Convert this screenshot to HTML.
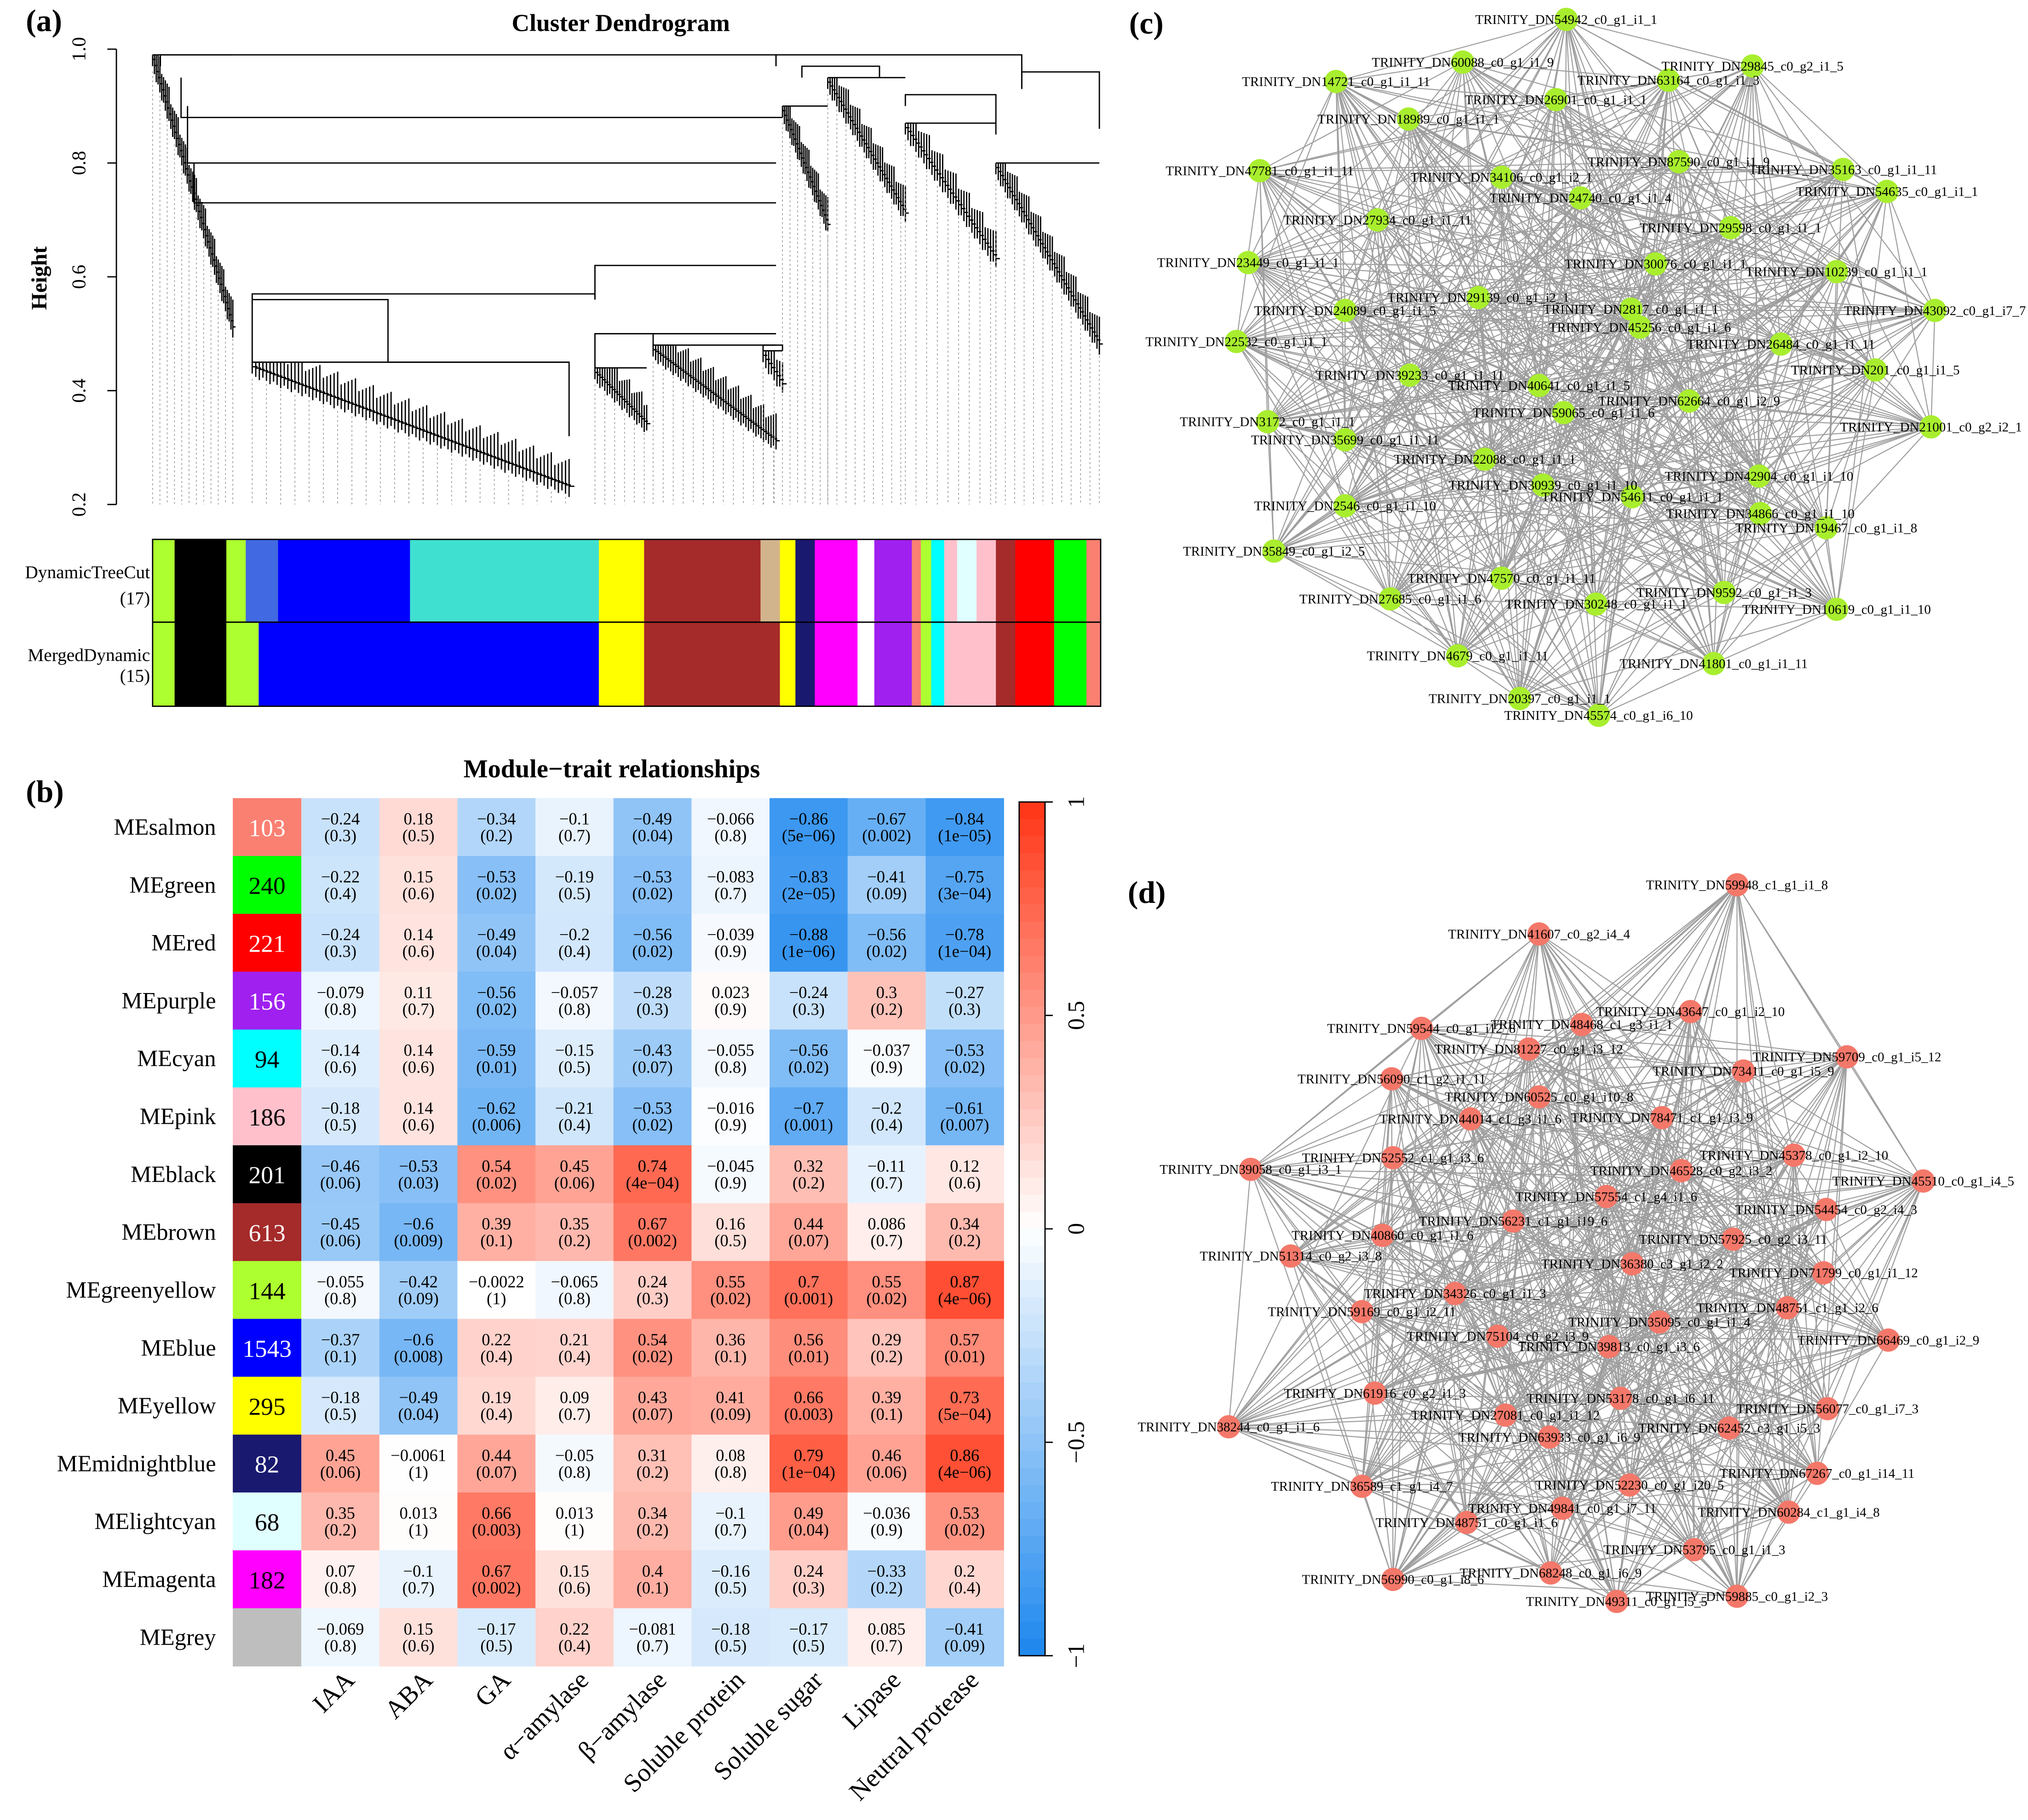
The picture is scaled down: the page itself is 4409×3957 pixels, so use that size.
<!DOCTYPE html>
<html><head><meta charset="utf-8"><style>
html,body{margin:0;padding:0;background:#fff}
svg{display:block}
text{font-family:"Liberation Serif",serif}
</style></head><body>
<svg id="fig" width="4409" height="3957" viewBox="0 0 1568 1407" preserveAspectRatio="none" xmlns="http://www.w3.org/2000/svg">
<rect width="1568" height="1407" fill="#fff"/>
<g id="pa"></g>
<g id="pb"></g>
<g id="pc"></g>
<g id="pd"></g>
</svg>
<script>
const NS="http://www.w3.org/2000/svg";
function mk(parent,tag,attrs,txt){const e=document.createElementNS(NS,tag);for(const k in attrs)e.setAttribute(k,attrs[k]);if(txt!==undefined)e.textContent=txt;parent.appendChild(e);return e;}

/* ---------- Panel A data ---------- */
const yTicks=[0.2,0.4,0.6,0.8,1.0];
const combGroups=[[118,180,0.97,0.50,45],[195,440,0.43,0.22,90],[460,500,0.42,0.33,22],[505,600,0.46,0.30,50],[590,605,0.45,0.40,8],[605,640,0.88,0.68,25],[640,700,0.93,0.70,35],[700,770,0.85,0.62,35],[770,850,0.78,0.47,45]];
const brackets=[[124,0.97,600,0.97,0.99],[600,0.97,790,0.93,0.99],[790,0.93,850,0.86,0.96],[140,0.95,605,0.88,0.88],[145,0.90,600,0.80,0.80],[150,0.80,600,0.73,0.73],[195,0.56,460,0.56,0.57],[195,0.45,300,0.45,0.56],[300,0.45,440,0.32,0.45],[460,0.56,600,0.62,0.62],[460,0.44,505,0.47,0.50],[590,0.47,605,0.47,0.48],[505,0.50,600,0.50,0.50],[620,0.95,680,0.95,0.97],[700,0.90,770,0.85,0.92]];
const treeCut=[["#ADFF2F",118,135],["#000",135,175],["#ADFF2F",175,190],["#4169E1",190,215],["#0000FF",215,317],["#40E0D0",317,463],["#FFFF00",463,498],["#A52A2A",498,506],["#A52A2A",506,588],["#D2B48C",588,603],["#FFFF00",603,615],["#191970",615,630],["#FF00FF",630,663],["#fff",663,676],["#A020F0",676,705],["#FA8072",705,712],["#ADFF2F",712,720],["#00FFFF",720,730],["#FFC0CB",730,740],["#E0FFFF",740,755],["#FFC0CB",755,770],["#A52A2A",770,785],["#FF0000",785,815],["#00FF00",815,840],["#FA8072",840,851]];
const merged=[["#ADFF2F",118,135],["#000",135,175],["#ADFF2F",175,200],["#0000FF",200,463],["#FFFF00",463,498],["#A52A2A",498,603],["#FFFF00",603,615],["#191970",615,630],["#FF00FF",630,663],["#fff",663,676],["#A020F0",676,705],["#FA8072",705,712],["#ADFF2F",712,720],["#00FFFF",720,730],["#FFC0CB",730,770],["#A52A2A",770,785],["#FF0000",785,815],["#00FF00",815,840],["#FA8072",840,851]];

const pa=document.getElementById('pa');
const yH=h=>38+(1-h)/0.8*352;
let t=mk(pa,'text',{x:20,y:24,'font-size':24,'font-weight':'bold'},'(a)');

t=mk(pa,'text',{x:480,y:24,'font-size':19,'font-weight':'bold','text-anchor':'middle'},'Cluster Dendrogram');

t=mk(pa,'text',{x:36,y:215,'font-size':17,'font-weight':'bold','text-anchor':'middle',transform:'rotate(-90 36 215)'},'Height');

let ax=mk(pa,'line',{x1:90,y1:yH(1),x2:90,y2:yH(0.2),stroke:'#000','stroke-width':1});

yTicks.forEach(v=>{const y=yH(v);mk(pa,'line',{x1:83,y1:y,x2:90,y2:y,stroke:'#000'});
 const tt=mk(pa,'text',{x:66,y:y,'font-size':15,'text-anchor':'middle',transform:`rotate(-90 66 ${y})`},v.toFixed(1));
 });
const tree=mk(pa,'g',{});
combGroups.forEach(g=>{const [x0,x1,h0,h1,n]=g;
 for(let i=0;i<n;i+=2){const x=x0+(x1-x0)*i/(n-1);const h=h0+(h1-h0)*i/(n-1);
  if(i%4==0)mk(tree,'line',{x1:x,y1:yH(h)+4,x2:x,y2:390,stroke:'#999','stroke-width':0.6,'stroke-dasharray':'1.5,2'});}
 let d='';
 for(let i=0;i<n;i++){const x=x0+(x1-x0)*i/(n-1);const h=h0+(h1-h0)*i/(n-1);
  const top=Math.min(h+0.04+0.02*((i%5)/4),h0+0.02);
  d+=`M${x},${yH(top)}V${yH(h)+ (i%3)*1.5}M${x},${yH(h+0.012)}h${(x1-x0)/(n-1)*1.5}`;}
 mk(tree,'path',{d:d,stroke:'#000','stroke-width':1.0,fill:'none'});
 mk(tree,'path',{d:`M${x0},${yH(h0+0.02)}H${x1}`,stroke:'#000','stroke-width':1});
});
brackets.forEach(b=>{const [xl,hl,xr,hr,h]=b;
 mk(tree,'path',{d:`M${xl},${yH(hl)}V${yH(h)}H${xr}V${yH(hr)}`,stroke:'#000','stroke-width':1,fill:'none'});});
function bar(arr,y,hgt,name){const g=mk(pa,'g',{});
 arr.forEach(s=>mk(g,'rect',{x:s[1],y:y,width:s[2]-s[1]+0.3,height:hgt,fill:s[0]}));
 mk(g,'rect',{x:118,y:y,width:733,height:hgt,fill:'none',stroke:'#000','stroke-width':1});}
bar(treeCut,417,64,'dynamic-tree-cut-bar');bar(merged,481,65,'merged-dynamic-bar');
[[ 'DynamicTreeCut',447],['(17)',467],['MergedDynamic',511],['(15)',527]].forEach(l=>{const tt=mk(pa,'text',{x:116,y:l[1],'font-size':14,'text-anchor':'end'},l[0]);});

/* ---------- Panel B data ---------- */
const modules=["MEsalmon","MEgreen","MEred","MEpurple","MEcyan","MEpink","MEblack","MEbrown","MEgreenyellow","MEblue","MEyellow","MEmidnightblue","MElightcyan","MEmagenta","MEgrey"];
const moduleColors=["#FA8072","#00FF00","#FF0000","#A020F0","#00FFFF","#FFC0CB","#000000","#A52A2A","#ADFF2F","#0000FF","#FFFF00","#191970","#E0FFFF","#FF00FF","#BEBEBE"];
const moduleSizes=["103","240","221","156","94","186","201","613","144","1543","295","82","68","182",""];
const traits=["IAA","ABA","GA","α−amylase","β−amylase","Soluble protein","Soluble sugar","Lipase","Neutral protease"];
const corr=[
[-0.24,0.18,-0.34,-0.1,-0.49,-0.066,-0.86,-0.67,-0.84],
[-0.22,0.15,-0.53,-0.19,-0.53,-0.083,-0.83,-0.41,-0.75],
[-0.24,0.14,-0.49,-0.2,-0.56,-0.039,-0.88,-0.56,-0.78],
[-0.079,0.11,-0.56,-0.057,-0.28,0.023,-0.24,0.3,-0.27],
[-0.14,0.14,-0.59,-0.15,-0.43,-0.055,-0.56,-0.037,-0.53],
[-0.18,0.14,-0.62,-0.21,-0.53,-0.016,-0.7,-0.2,-0.61],
[-0.46,-0.53,0.54,0.45,0.74,-0.045,0.32,-0.11,0.12],
[-0.45,-0.6,0.39,0.35,0.67,0.16,0.44,0.086,0.34],
[-0.055,-0.42,-0.0022,-0.065,0.24,0.55,0.7,0.55,0.87],
[-0.37,-0.6,0.22,0.21,0.54,0.36,0.56,0.29,0.57],
[-0.18,-0.49,0.19,0.09,0.43,0.41,0.66,0.39,0.73],
[0.45,-0.0061,0.44,-0.05,0.31,0.08,0.79,0.46,0.86],
[0.35,0.013,0.66,0.013,0.34,-0.1,0.49,-0.036,0.53],
[0.07,-0.1,0.67,0.15,0.4,-0.16,0.24,-0.33,0.2],
[-0.069,0.15,-0.17,0.22,-0.081,-0.18,-0.17,0.085,-0.41]];
const pvals=[
["0.3","0.5","0.2","0.7","0.04","0.8","5e−06","0.002","1e−05"],
["0.4","0.6","0.02","0.5","0.02","0.7","2e−05","0.09","3e−04"],
["0.3","0.6","0.04","0.4","0.02","0.9","1e−06","0.02","1e−04"],
["0.8","0.7","0.02","0.8","0.3","0.9","0.3","0.2","0.3"],
["0.6","0.6","0.01","0.5","0.07","0.8","0.02","0.9","0.02"],
["0.5","0.6","0.006","0.4","0.02","0.9","0.001","0.4","0.007"],
["0.06","0.03","0.02","0.06","4e−04","0.9","0.2","0.7","0.6"],
["0.06","0.009","0.1","0.2","0.002","0.5","0.07","0.7","0.2"],
["0.8","0.09","1","0.8","0.3","0.02","0.001","0.02","4e−06"],
["0.1","0.008","0.4","0.4","0.02","0.1","0.01","0.2","0.01"],
["0.5","0.04","0.4","0.7","0.07","0.09","0.003","0.1","5e−04"],
["0.06","1","0.07","0.8","0.2","0.8","1e−04","0.06","4e−06"],
["0.2","1","0.003","1","0.2","0.7","0.04","0.9","0.02"],
["0.8","0.7","0.002","0.6","0.1","0.5","0.3","0.2","0.4"],
["0.8","0.6","0.5","0.4","0.7","0.5","0.5","0.7","0.09"]];
const legendTicks=[1,0.5,0,-0.5,-1];
const darkLabel=[true,false,true,true,false,false,true,true,false,true,false,true,false,false,false];

const pb=document.getElementById('pb');
const HX0=233,HX1=776,HY0=617,HY1=1288,CX0=180;
const cw=(HX1-HX0)/traits.length, rh=(HY1-HY0)/modules.length;
const colX=j=>HX0+j*cw, rowY=i=>HY0+i*rh;
function cmap(v){v=Math.max(-1,Math.min(1,v));const a=Math.abs(v);
 const e=v<0?[28,135,238]:[255,52,20];
 return `rgb(${Math.round(255+(e[0]-255)*a)},${Math.round(255+(e[1]-255)*a)},${Math.round(255+(e[2]-255)*a)})`;}
const fmt=v=>String(v).replace('-','−');
t=mk(pb,'text',{x:20,y:620,'font-size':24,'font-weight':'bold'},'(b)');
t=mk(pb,'text',{x:473,y:601,'font-size':20,'font-weight':'bold','text-anchor':'middle'},'Module−trait relationships');

modules.forEach((m,i)=>{const y=rowY(i);
 const lab=mk(pb,'text',{x:167,y:y+rh/2+6,'font-size':18,'text-anchor':'end'},m);
 
 const r=mk(pb,'rect',{x:CX0,y:y,width:HX0-CX0,height:rh+0.3,fill:moduleColors[i]});
 
 if(moduleSizes[i]){const s=mk(pb,'text',{x:(CX0+HX0)/2,y:y+rh/2+7,'font-size':19,'text-anchor':'middle',fill:darkLabel[i]?'#fff':'#000'},moduleSizes[i]);
  }
 traits.forEach((tr,j)=>{const x=colX(j);
  const c=mk(pb,'rect',{x:x,y:y,width:cw+0.3,height:rh+0.3,fill:cmap(corr[i][j])});
  
  const t1=mk(pb,'text',{x:x+cw/2,y:y+rh/2-2,'font-size':13,'text-anchor':'middle'},fmt(corr[i][j]));
  
  const t2=mk(pb,'text',{x:x+cw/2,y:y+rh/2+11,'font-size':13,'text-anchor':'middle'},'('+pvals[i][j]+')');
  });});
traits.forEach((tr,j)=>{const x=colX(j)+cw/2+12,y=1300;
 const l=mk(pb,'text',{x:x,y:y,'font-size':20,'text-anchor':'end',transform:`rotate(-45 ${x} ${y})`},tr);
 });
const CBX=788,CBW=20,CBY0=620,CBY1=1280;
const cbY=v=>CBY0+(1-v)/2*(CBY1-CBY0);
const cb=mk(pb,'g',{});
for(let k=0;k<50;k++){const v1=1-k*0.04;mk(cb,'rect',{x:CBX,y:cbY(v1),width:CBW,height:(CBY1-CBY0)/50+0.4,fill:cmap(v1-0.02)});}
mk(cb,'rect',{x:CBX,y:CBY0,width:CBW,height:CBY1-CBY0,fill:'none',stroke:'#000','stroke-width':1});
legendTicks.forEach(v=>{const y=cbY(v);mk(cb,'line',{x1:CBX+CBW,y1:y,x2:CBX+CBW+6,y2:y,stroke:'#000'});
 const l=mk(pb,'text',{x:838,y:y,'font-size':18,'text-anchor':'middle',transform:`rotate(-90 838 ${y})`},fmt(v));
 });

/* ---------- Networks ---------- */
const netC=[["DN54942_c0_g1_i1_1",1211,15],["DN60088_c0_g1_i1_9",1131,48],["DN29845_c0_g2_i1_5",1355,51],["DN14721_c0_g1_i1_11",1033,63],["DN63164_c0_g1_i1_3",1290,62],["DN26901_c0_g1_i1_1",1203,77],["DN18989_c0_g1_i1_1",1089,92],["DN47781_c0_g1_i1_11",974,132],["DN34106_c0_g1_i2_1",1161,137],["DN87590_c0_g1_i1_9",1298,125],["DN35163_c0_g1_i1_11",1425,131],["DN24740_c0_g1_i1_4",1222,153],["DN54635_c0_g1_i1_1",1459,148],["DN27934_c0_g1_i1_11",1065,170],["DN29598_c0_g1_i1_1",1338,176],["DN23449_c0_g1_i1_1",965,203],["DN30076_c0_g1_i1_1",1280,204],["DN10239_c0_g1_i1_1",1420,210],["DN29139_c0_g1_i2_1",1143,230],["DN24089_c0_g1_i1_5",1040,240],["DN2817_c0_g1_i1_1",1261,239],["DN43092_c0_g1_i7_7",1496,240],["DN45256_c0_g1_i1_6",1268,253],["DN22532_c0_g1_i1_1",956,264],["DN26484_c0_g1_i1_11",1377,266],["DN39233_c0_g1_i1_11",1090,290],["DN201_c0_g1_i1_5",1450,286],["DN40641_c0_g1_i1_5",1190,298],["DN62664_c0_g1_i2_9",1306,310],["DN59065_c0_g1_i1_6",1209,319],["DN3172_c0_g1_i1_1",980,326],["DN21001_c0_g2_i2_1",1493,330],["DN35699_c0_g1_i1_11",1040,340],["DN22088_c0_g1_i1_1",1148,355],["DN42904_c0_g1_i1_10",1360,368],["DN30939_c0_g1_i1_10",1193,375],["DN54611_c0_g1_i1_1",1262,384],["DN2546_c0_g1_i1_10",1040,391],["DN34866_c0_g1_i1_10",1361,397],["DN19467_c0_g1_i1_8",1412,408],["DN35849_c0_g1_i2_5",985,426],["DN47570_c0_g1_i1_11",1161,447],["DN9592_c0_g1_i1_3",1333,458],["DN27685_c0_g1_i1_6",1075,463],["DN30248_c0_g1_i1_1",1234,467],["DN10619_c0_g1_i1_10",1420,471],["DN4679_c0_g1_i1_11",1127,507],["DN41801_c0_g1_i1_11",1325,513],["DN20397_c0_g1_i1_1",1175,540],["DN45574_c0_g1_i6_10",1236,553]];
const netD=[["DN59948_c1_g1_i1_8",1343,684],["DN41607_c0_g2_i4_4",1190,722],["DN43647_c0_g1_i2_10",1307,782],["DN48468_c1_g3_i1_1",1223,792],["DN59544_c0_g1_i12_8",1099,795],["DN81227_c0_g1_i3_12",1182,811],["DN59709_c0_g1_i5_12",1428,817],["DN73411_c0_g1_i5_9",1348,828],["DN56090_c1_g2_i1_11",1076,834],["DN60525_c0_g1_i10_8",1190,848],["DN44014_c1_g3_i1_6",1137,865],["DN78471_c1_g1_i3_9",1285,864],["DN52552_c1_g1_i3_6",1077,895],["DN45378_c0_g1_i2_10",1387,893],["DN39058_c0_g1_i3_1",967,904],["DN46528_c0_g2_i3_2",1300,905],["DN45510_c0_g1_i4_5",1487,913],["DN57554_c1_g4_i1_6",1242,925],["DN54454_c0_g2_i4_3",1412,935],["DN56231_c1_g1_i19_6",1170,944],["DN40860_c0_g1_i1_6",1069,955],["DN57925_c0_g2_i3_11",1340,958],["DN51314_c0_g2_i3_8",998,971],["DN36380_c3_g1_i2_2",1262,977],["DN71799_c0_g1_i1_12",1410,984],["DN34326_c0_g1_i1_3",1125,1000],["DN48751_c1_g1_i2_6",1382,1011],["DN59169_c0_g1_i2_11",1053,1014],["DN35095_c0_g1_i1_4",1283,1022],["DN75104_c0_g2_i3_9",1158,1033],["DN39813_c0_g1_i3_6",1244,1041],["DN66469_c0_g1_i2_9",1460,1036],["DN61916_c0_g2_i1_3",1063,1077],["DN53178_c0_g1_i6_11",1253,1081],["DN27081_c0_g1_i1_12",1164,1094],["DN56077_c0_g1_i7_3",1413,1089],["DN38244_c0_g1_i1_6",950,1103],["DN62452_c3_g1_i5_3",1337,1104],["DN63933_c0_g1_i6_9",1198,1111],["DN67267_c0_g1_i14_11",1405,1139],["DN52230_c0_g1_i20_5",1260,1148],["DN36589_c1_g1_i4_7",1053,1149],["DN49841_c0_g1_i7_11",1208,1166],["DN60284_c1_g1_i4_8",1383,1169],["DN48751_c0_g1_i1_6",1134,1177],["DN53795_c0_g1_i1_3",1310,1198],["DN68248_c0_g1_i6_9",1199,1216],["DN56990_c0_g1_i8_6",1077,1221],["DN49311_c0_g1_i5_5",1250,1238],["DN59885_c0_g1_i2_3",1343,1234]];
function network(gid,nodes,color,label,lx,ly,mod){
 const g=document.getElementById(gid);
 const l=mk(g,'text',{x:lx,y:ly,'font-size':24,'font-weight':'bold'},label);
 
 const eg=mk(g,'g',{stroke:'#9e9e9e','stroke-width':0.8});
 
 for(let i=0;i<nodes.length;i++)for(let j=i+1;j<nodes.length;j++){
  if(((i*13+j*7)%10)<mod)mk(eg,'line',{x1:nodes[i][1],y1:nodes[i][2],x2:nodes[j][1],y2:nodes[j][2]});}
 nodes.forEach(n=>{const c=mk(g,'circle',{cx:n[1],cy:n[2],r:9,fill:color});
  });
 nodes.forEach(n=>{const tt=mk(g,'text',{x:n[1],y:n[2]+3.5,'font-size':10.3,'text-anchor':'middle'},'TRINITY_'+n[0]);
  });
}
network('pc',netC,'#a8ee2e','(c)',873,26,5);
network('pd',netD,'#f4786a','(d)',872,698,5);
</script>
</body></html>
